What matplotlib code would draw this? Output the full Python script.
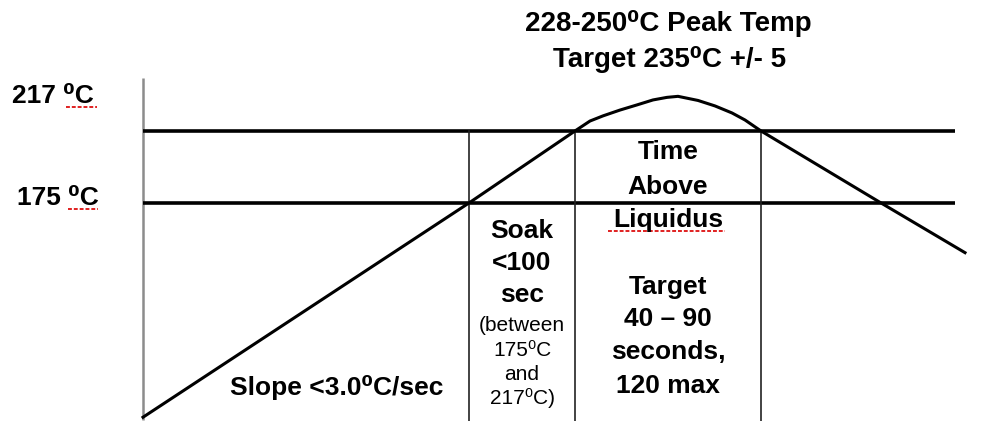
import matplotlib
matplotlib.use("Agg")
import matplotlib.pyplot as plt

plt.rcParams['font.family'] = ['Liberation Sans', 'DejaVu Sans']

# reflow profile, time (s, schematic) vs temperature (C)
profile_time = [0, 163, 216, 223.5, 230, 238.5, 247, 255, 262, 267.5,
                277.5, 286, 294.5, 301, 309, 369, 411]
profile_temp = [50, 175, 217, 222.8, 225.8, 229.2, 232.2, 235.1, 236.6, 237.2,
                234.8, 231.6, 227.5, 223.4, 217, 175, 146]

soak_temp = 175
liquidus_temp = 217
level_end = 406
zone_edges = [163, 216, 309]   # start soak, enter liquidus, leave liquidus
axis_span = [48.4, 248]

W, H = 997, 421
fig = plt.figure(figsize=(W / 100, H / 100), dpi=100)
ax = fig.add_axes([0, 0, 1, 1])
ax.set_xlim(-71.5, 427)
ax.set_ylim(47.8, 293.4)
ax.axis('off')


def px(x, y):
    # pixel position -> figure fraction
    return x / W, 1 - y / H


def put(x, y, s, size=19, weight='bold', ha='center', **kw):
    fx, fy = px(x, y)
    ax.text(fx, fy, s, transform=fig.transFigure, fontsize=size,
            fontweight=weight, ha=ha, va='baseline', color='black', **kw)


def squiggle(x0, x1, y):
    (a, b), (c, _) = px(x0, y), px(x1, y)
    ax.plot([a, c], [b, b], transform=fig.transFigure, color='#e02020',
            lw=1.4, ls=(0, (2, 1)))


# temperature axis
ax.plot([0, 0], axis_span, color='#8c8c8c', lw=1.8, solid_capstyle='butt')

# temperature levels
for lvl in (liquidus_temp, soak_temp):
    ax.plot([0, level_end], [lvl, lvl], color='black', lw=2.6,
            solid_capstyle='butt')

# zone boundaries
for t in zone_edges:
    ax.plot([t, t], [liquidus_temp, 40], color='#222222', lw=1.2)

# profile curve
ax.plot(profile_time, profile_temp, color='black', lw=2.2,
        solid_joinstyle='round')

# labels
put(12, 103, "217 \u2070C", ha='left')
put(17, 205, "175 \u2070C", ha='left')
squiggle(66, 97, 107)
squiggle(68, 98, 209)

put(668, 31, "228-250\u2070C Peak Temp", size=20)
put(670, 67, "Target 235\u2070C +/- 5", size=20)

for y, s in zip([159, 194, 227], ["Time", "Above", "Liquidus"]):
    put(668, y, s)
squiggle(608, 725, 231)

for y, s in zip([294, 326, 359, 393], ["Target", "40 \u2013 90", "seconds,", "120 max"]):
    put(668, y, s)

for y, s in zip([238, 270, 302], ["Soak", "<100", "sec"]):
    put(522, y, s)
for y, s in zip([331, 356, 380, 404], ["(between", "175\u2070C", "and", "217\u2070C)"]):
    put(522, y, s, size=15, weight='normal')

put(230, 395, "Slope <3.0\u2070C/sec", ha='left')

fig.savefig("out.png", dpi=100, facecolor='white')
